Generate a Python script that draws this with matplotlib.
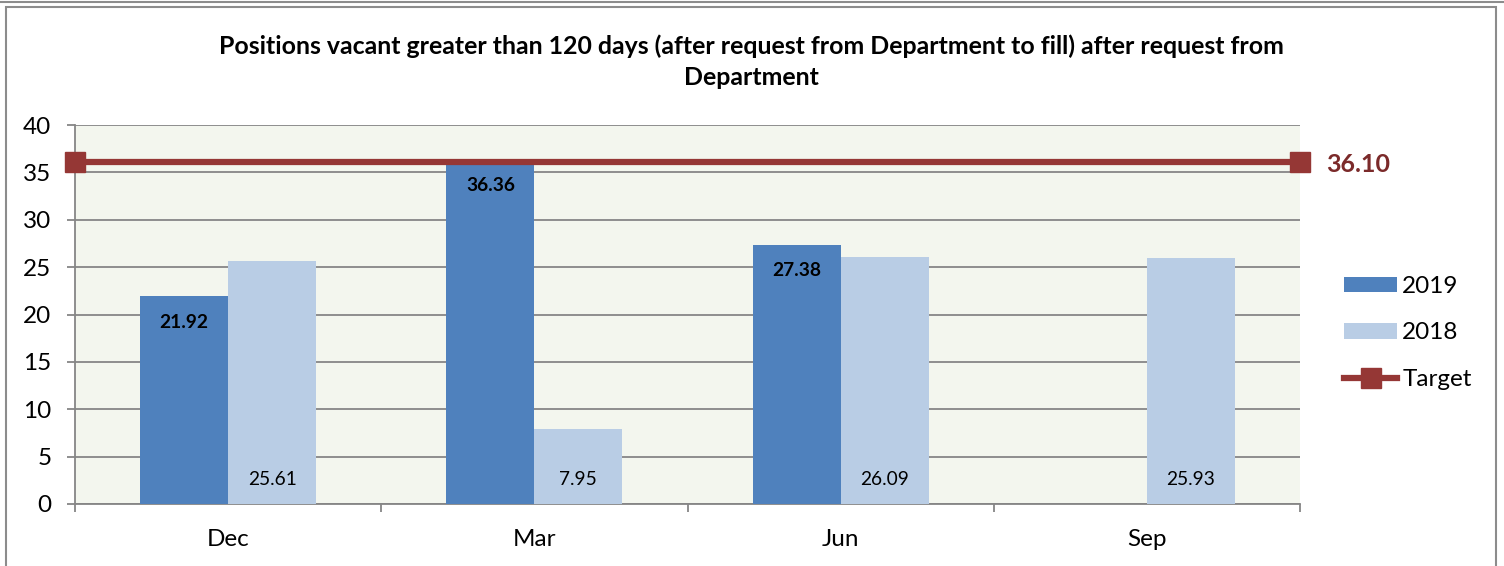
import matplotlib
matplotlib.use("Agg")
import matplotlib.pyplot as plt
import numpy as np
from matplotlib.patches import Rectangle
from matplotlib.lines import Line2D

categories = ["Dec", "Mar", "Jun", "Sep"]
values_2019 = [21.92, 36.36, 27.38, np.nan]
values_2018 = [25.61, 7.95, 26.09, 25.93]
target_value = 36.10
yticks = [0, 5, 10, 15, 20, 25, 30, 35, 40]
title = ("Positions vacant greater than 120 days (after request from Department to fill) after request from\n"
         "Department")

c2019 = "#4F81BD"
c2018 = "#B9CDE5"
ctarget = "#953735"
clabel = "#7B2A2A"

plt.rcParams['font.family'] = ['Lato', 'DejaVu Sans']

W, H = 1504, 566
fig = plt.figure(figsize=(W / 100, H / 100), dpi=100)

# chart border
fig.add_artist(Line2D([0, 1], [1 - 2 / H, 1 - 2 / H], transform=fig.transFigure, color="#8C8C8C", lw=1.5))
fig.add_artist(Rectangle((6 / W, -0.05), (1496 - 6) / W, 1.05 - 7 / H, transform=fig.transFigure,
                         fill=False, edgecolor="#8C8C8C", lw=1.5))

ax = fig.add_axes([75 / W, 1 - 504 / H, (1300 - 75) / W, (504 - 125) / H])
ax.set_facecolor("#F3F6EE")

x = np.arange(len(categories))
bw = 0.287
b19 = ax.bar(x - bw / 2, values_2019, bw, color=c2019, label="2019", zorder=3)
b18 = ax.bar(x + bw / 2, values_2018, bw, color=c2018, label="2018", zorder=3)

ax.set_xlim(-0.5, len(categories) - 0.5)
ax.set_ylim(0, 40)
ax.set_yticks(yticks)
ax.grid(axis='y', color="#868686", lw=1.3, zorder=1)
ax.set_axisbelow(True)

ax.plot([-0.5, len(categories) - 0.5], [target_value, target_value], color=ctarget, lw=4.5,
        marker='s', markersize=15, clip_on=False, zorder=5, label="Target")
ax.annotate(f"{target_value:.2f}", xy=(len(categories) - 0.5, target_value), xytext=(19, -2),
            textcoords='offset points', ha='left', va='center', fontsize=18, fontweight='bold', color=clabel)

for xi, v in zip(x, values_2019):
    if not np.isnan(v):
        ax.annotate(f"{v:.2f}", xy=(xi - bw / 2, v), xytext=(0, -18.5), textcoords='offset points',
                    ha='center', va='center', fontsize=13.8, fontweight='bold', color='black', zorder=6)
for xi, v in zip(x, values_2018):
    ax.annotate(f"{v:.2f}", xy=(xi + bw / 2, 0), xytext=(0, 17.5), textcoords='offset points',
                ha='center', va='center', fontsize=13.8, color='black', zorder=6)

for s in ['top', 'right']:
    ax.spines[s].set_visible(False)
for s in ['left', 'bottom']:
    ax.spines[s].set_color("#868686")
    ax.spines[s].set_linewidth(1.3)

ax.set_xticks(np.arange(len(categories) + 1) - 0.5)
ax.set_xticklabels([])
ax.set_xticks(x, minor=True)
ax.set_xticklabels(categories, minor=True)
ax.tick_params(axis='x', which='major', length=6, width=1.3, color="#868686", direction='out')
ax.tick_params(axis='x', which='minor', length=0, pad=18, labelsize=17.5)
ax.tick_params(axis='y', length=6, width=1.3, color="#868686", direction='out', pad=11, labelsize=17.5)

fig.text(751 / W, 1 - 62 / H, title, ha='center', va='center', fontsize=17.9, fontweight='bold',
         linespacing=1.42, multialignment='center')

handles = [b19, b18, Line2D([0], [0], color=ctarget, lw=4.5, marker='s', markersize=15)]
leg = fig.legend(handles, ["2019", "2018", "Target"], loc='center left',
                 bbox_to_anchor=(1322 / W, 1 - 333 / H), frameon=False, fontsize=17.5,
                 handlelength=2.2, handleheight=0.6, labelspacing=1.05, handletextpad=0.2)

fig.savefig("out.png", dpi=100)
